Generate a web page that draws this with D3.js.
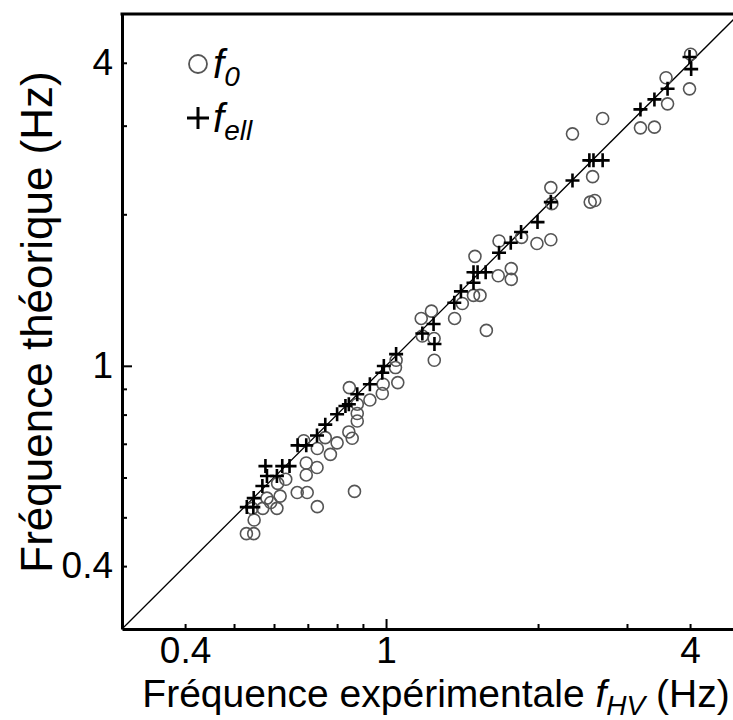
<!DOCTYPE html>
<html>
<head>
<meta charset="utf-8">
<script src="https://cdn.jsdelivr.net/npm/d3@7"></script>
<style>
  body { margin: 0; background: #fff; }
  text { font-family: "Liberation Sans", Arial, sans-serif; }
</style>
</head>
<body>
<div id="chart"></div>
<script>
const f0HV   = [4.01, 3.99, 3.585, 3.61, 3.19, 3.40, 2.685, 2.34, 2.565, 2.537, 2.59, 2.12, 2.13, 2.12, 1.99, 1.855, 1.674,
                1.50, 1.668, 1.77, 1.77, 1.535, 1.49, 1.416, 1.367, 1.58, 1.23, 1.174, 1.18, 1.245, 1.246, 1.047, 1.044,
                1.055, 0.987, 0.983, 0.929, 0.846, 0.877, 0.877, 0.877, 0.844, 0.857, 0.80, 0.776, 0.731, 0.687, 0.758,
                0.695, 0.730, 0.695, 0.667, 0.698, 0.731, 0.866, 0.633, 0.617, 0.608, 0.591, 0.570, 0.581, 0.610, 0.548,
                0.529, 0.547, 0.543];
const f0Theo = [4.16, 3.55, 3.735, 3.315, 2.97, 2.98, 3.10, 2.89, 2.376, 2.115, 2.13, 2.26, 2.10, 1.78, 1.75, 1.80, 1.77,
                1.65, 1.51, 1.56, 1.485, 1.38, 1.38, 1.33, 1.242, 1.176, 1.284, 1.242, 1.146, 1.133, 1.026, 1.026, 0.992,
                0.926, 0.919, 0.881, 0.855, 0.905, 0.839, 0.804, 0.777, 0.739, 0.718, 0.703, 0.667, 0.685, 0.710, 0.720,
                0.641, 0.628, 0.607, 0.560, 0.560, 0.525, 0.563, 0.595, 0.551, 0.521, 0.535, 0.521, 0.546, 0.584, 0.494,
                0.464, 0.464, 0.521];

const fellHV   = [3.99, 4.02, 3.61, 3.40, 3.19, 2.685, 2.575, 2.527, 2.34, 2.12, 1.995, 1.851, 1.766, 1.674, 1.575, 1.518,
                  1.49, 1.49, 1.407, 1.365, 1.242, 1.247, 1.18, 1.047, 0.99, 0.983, 0.929, 0.877, 0.844, 0.831, 0.80,
                  0.758, 0.730, 0.695, 0.668, 0.644, 0.623, 0.577, 0.581, 0.608, 0.569, 0.547, 0.530, 0.546];
const fellTheo = [4.107, 3.886, 3.551, 3.383, 3.232, 2.56, 2.56, 2.56, 2.334, 2.115, 1.93, 1.844, 1.756, 1.677, 1.534, 1.534,
                  1.534, 1.462, 1.406, 1.334, 1.211, 1.105, 1.159, 1.055, 0.999, 0.969, 0.919, 0.878, 0.839, 0.832, 0.801,
                  0.764, 0.727, 0.695, 0.695, 0.632, 0.632, 0.632, 0.604, 0.604, 0.577, 0.546, 0.524, 0.524];

const domain = [0.3, 5];
const tickVals = [0.4, 0.5, 0.6, 0.7, 0.8, 0.9, 1, 2, 3, 4];
const tickLabels = {0.4: "0.4", 1: "1", 4: "4"};

const width = 733, height = 720;

var svg = d3.select("#chart")
    .append("svg")
    .attr("width", width)
    .attr("height", height);

var x = d3.scaleLog().domain(domain).range([122, 739]);
var y = d3.scaleLog().domain(domain).range([629, 14]);

// 1:1 line
svg.append("line")
    .attr("x1", x(domain[0])).attr("y1", y(domain[0]))
    .attr("x2", x(domain[1])).attr("y2", y(domain[1]))
    .attr("stroke", "#000")
    .attr("stroke-width", 1.3);

// f0 circles
var f0 = f0HV.map((d, i) => ({hv: d, th: f0Theo[i]}));
svg.selectAll("circle.f0")
    .data(f0)
  .enter().append("circle")
    .attr("class", "f0")
    .attr("cx", d => x(d.hv))
    .attr("cy", d => y(d.th))
    .attr("r", 6)
    .attr("fill", "none")
    .attr("stroke", "#555")
    .attr("stroke-width", 1.6);

// f_ell crosses
var fell = fellHV.map((d, i) => ({hv: d, th: fellTheo[i]}));
svg.selectAll("path.fell")
    .data(fell)
  .enter().append("path")
    .attr("class", "fell")
    .attr("d", "M-7,0H7M0,-7V7")
    .attr("transform", d => "translate(" + x(d.hv) + "," + y(d.th) + ")")
    .attr("stroke", "#000")
    .attr("stroke-width", 2.6);

// axes, ticks pointing inward
var xAxis = svg.append("g")
    .attr("transform", "translate(0," + y(domain[0]) + ")")
    .call(d3.axisBottom(x).tickValues(tickVals)
        .tickFormat(d => tickLabels[d] || "")
        .tickSizeInner(-5).tickSizeOuter(0).tickPadding(8));

var yAxis = svg.append("g")
    .attr("transform", "translate(" + x(domain[0]) + ",0)")
    .call(d3.axisLeft(y).tickValues(tickVals)
        .tickFormat(d => tickLabels[d] || "")
        .tickSizeInner(-5).tickSizeOuter(0).tickPadding(9));

[xAxis, yAxis].forEach(g => {
    g.select(".domain").attr("stroke-width", 3);
    g.selectAll(".tick line").attr("stroke-width", 2);
    g.selectAll(".tick text")
        .attr("font-size", 37)
        .attr("font-family", "Liberation Sans, Arial, sans-serif")
        .attr("fill", "#000");
});
xAxis.selectAll(".tick line").filter(d => d === 1).attr("y2", -10);
yAxis.selectAll(".tick line").filter(d => d === 1).attr("x2", 10);

// top frame
svg.append("line")
    .attr("x1", x(domain[0]) - 1.5).attr("x2", width)
    .attr("y1", y(domain[1])).attr("y2", y(domain[1]))
    .attr("stroke", "#000")
    .attr("stroke-width", 3);

// axis titles
var xt = svg.append("text")
    .attr("x", 436)
    .attr("y", 707)
    .attr("text-anchor", "middle")
    .attr("font-size", 39);
xt.append("tspan").text("Fréquence expérimentale ");
xt.append("tspan").attr("font-style", "italic").text("f");
xt.append("tspan").attr("font-style", "italic").attr("font-size", 28).attr("dy", 8).text("HV");
xt.append("tspan").attr("dy", -8).text(" (Hz)");

svg.append("text")
    .attr("transform", "translate(52,322) rotate(-90)")
    .attr("text-anchor", "middle")
    .attr("font-size", 44)
    .text("Fréquence théorique (Hz)");

// legend
var legend = svg.append("g");
legend.append("circle")
    .attr("cx", 198).attr("cy", 64).attr("r", 9)
    .attr("fill", "none").attr("stroke", "#555").attr("stroke-width", 1.8);
legend.append("path")
    .attr("d", "M187,118H209M198,107V129")
    .attr("stroke", "#000").attr("stroke-width", 3);

var l1 = legend.append("text").attr("x", 213).attr("y", 78).attr("font-size", 40).attr("font-style", "italic");
l1.append("tspan").text("f");
l1.append("tspan").attr("font-size", 28).attr("dy", 8).text("0");

var l2 = legend.append("text").attr("x", 213).attr("y", 132).attr("font-size", 40).attr("font-style", "italic");
l2.append("tspan").text("f");
l2.append("tspan").attr("font-size", 28).attr("dy", 8).text("ell");
</script>
</body>
</html>
